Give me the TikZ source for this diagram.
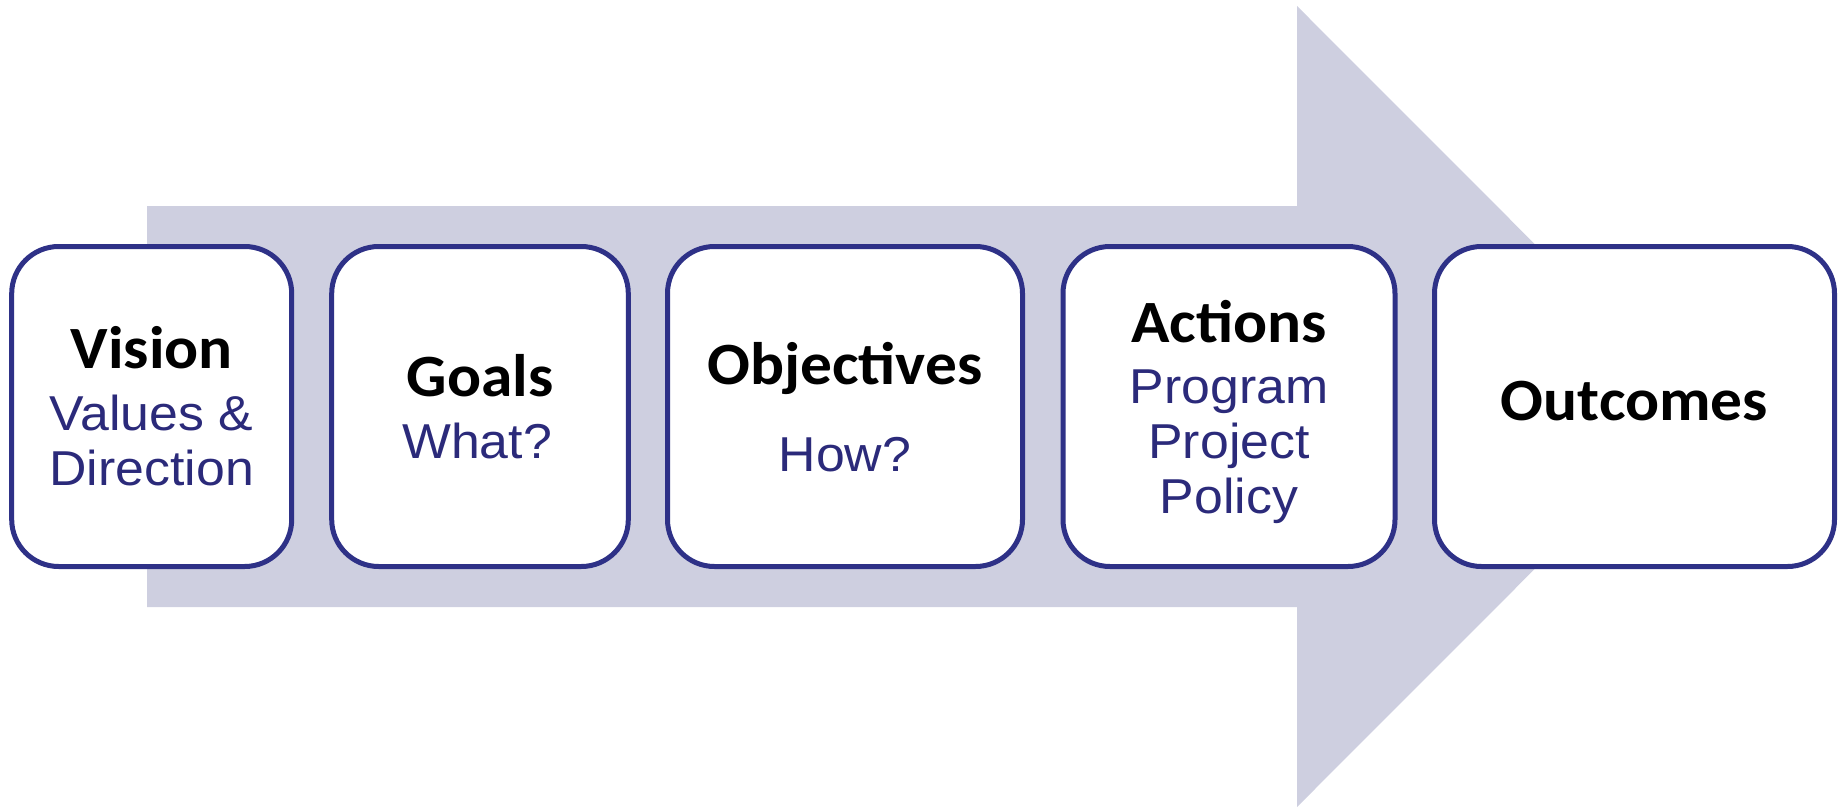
\documentclass[tikz,border=0pt]{standalone}
\usepackage{fontspec}
\setmainfont{Liberation Sans}[FakeStretch=1.057]
\newfontfamily\headfont{Carlito}[FakeStretch=1.057]
\definecolor{arrowfill}{RGB}{206,207,224}
\definecolor{boxblue}{RGB}{46,49,135}
\definecolor{txtblue}{RGB}{43,42,122}
\begin{document}
\begin{tikzpicture}[x=1pt,y=-1pt,
  stagebox/.style={draw=boxblue, line width=5pt, fill=white, rounded corners=47pt,
    minimum height=320pt, inner sep=0pt},
  head/.style={anchor=base, inner sep=0pt, font=\headfont\bfseries\fontsize{60}{72}\selectfont},
  sub/.style={anchor=base, inner sep=0pt, text=txtblue, font=\fontsize{49}{58}\selectfont}]
\useasboundingbox (0,0) rectangle (1845,808);
% big arrow
\fill[arrowfill] (147,206) -- (1297,206) -- (1297,6) -- (1697,406.5) -- (1297,807) -- (1297,607) -- (147,607) -- cycle;
% boxes
\node[stagebox, minimum width=280pt] (vision) at (151.7,406.5) {};
\node[stagebox, minimum width=296.6pt] (goals) at (480,406.5) {};
\node[stagebox, minimum width=355pt] (objectives) at (845,406.5) {};
\node[stagebox, minimum width=332pt] (actions) at (1229,406.5) {};
\node[stagebox, minimum width=400pt] (outcomes) at (1634.5,406.5) {};
% texts
\node[head] (tv) at (151.7,368) {Vision};
\node[sub] (tv1) at (151.7,430) {Values \&};
\node[sub] (tv2) at (151.7,485) {Direction};
\node[head] (tg) at (480,396) {Goals};
\node[sub] (tg1) at (477,458) {What?};
\node[head] (to) at (845,384) {Objectives};
\node[sub] (to1) at (845,471) {How?};
\node[head] (ta) at (1229,342) {Actions};
\node[sub] (ta1) at (1229,403) {Program};
\node[sub] (ta2) at (1229,458) {Project};
\node[sub] (ta3) at (1229,513) {Policy};
\node[head] (tout) at (1634.5,420) {Outcomes};
\end{tikzpicture}
\end{document}
